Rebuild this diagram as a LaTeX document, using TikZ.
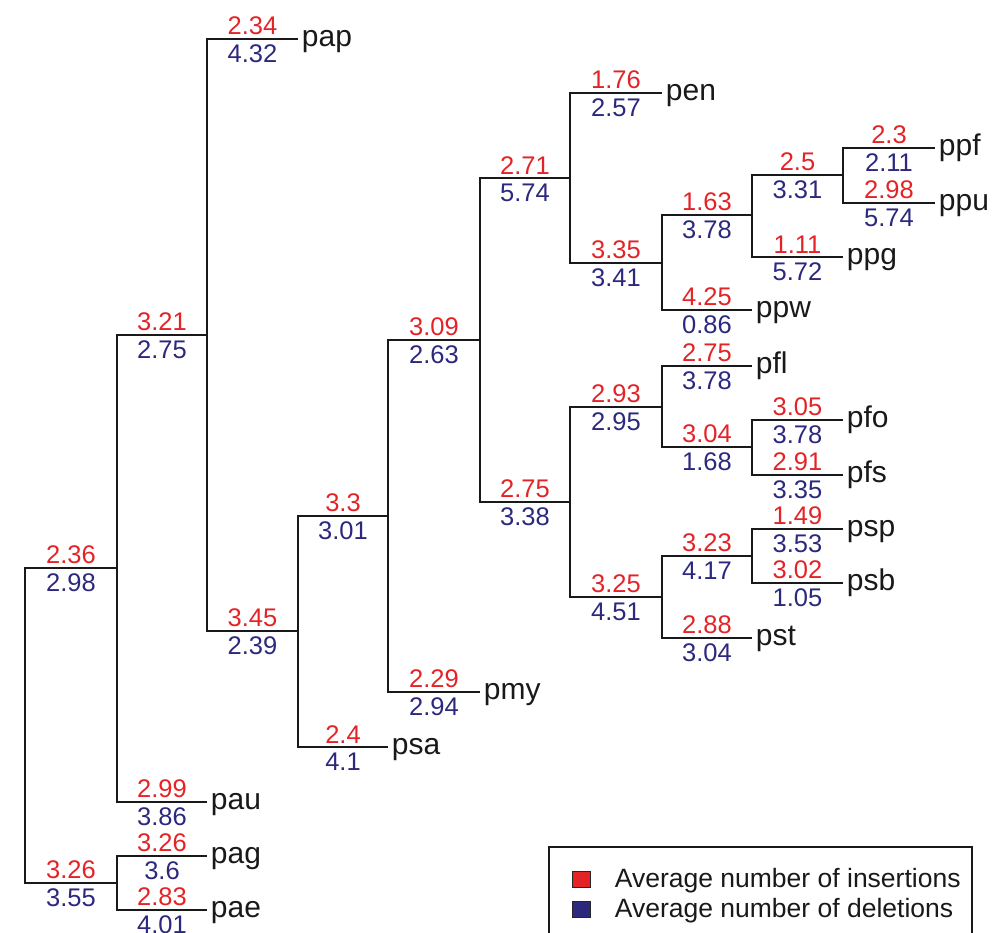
\documentclass[tikz,border=0pt]{standalone}
\usepackage{fontspec}
\setmainfont{Liberation Sans}
\definecolor{insred}{RGB}{228,35,39}
\definecolor{delblue}{RGB}{44,40,126}
\tikzset{
	inslabel/.style={pos=0.75, above=3pt, inner sep=0pt, text=insred, font=\fontsize{25.5}{30}\selectfont},
	dellabel/.style={pos=0.75, below=5pt, inner sep=0pt, text=delblue, font=\fontsize{25.5}{30}\selectfont},
	leaf/.style={anchor=west, inner sep=3pt, text height=15.5pt, text depth=0pt, font=\fontsize{30}{34}\selectfont},
	legbox/.style={draw=black!85, line width=1pt, minimum width=18pt, minimum height=16pt, inner sep=0pt},
	legtext/.style={anchor=base west, inner sep=0pt, font=\fontsize{26.5}{30}\selectfont}
}

\begin{document}
\begin{tikzpicture}[x=1pt, y=-1pt, line width=1.8pt, black!90]
		\useasboundingbox (0, 0) rectangle (996, 933);

		% inner nodes of the tree
		\coordinate (root) at (25, 725);
		\coordinate (n1) at (117, 568);
		\coordinate (n2) at (117, 883);
		\coordinate (n3) at (207, 335);
		\coordinate (n4) at (298, 631);
		\coordinate (n5) at (388, 516);
		\coordinate (n6) at (480, 340);
		\coordinate (n7) at (570, 178);
		\coordinate (n8) at (570, 502);
		\coordinate (n9) at (662, 263);
		\coordinate (n10) at (752, 215);
		\coordinate (n11) at (843, 175);
		\coordinate (n12) at (662, 407);
		\coordinate (n13) at (662, 597);
		\coordinate (n14) at (752, 447);
		\coordinate (n15) at (752, 556);

		% leaves
		\node[leaf] (pap) at (298, 39) {pap};
		\node[leaf] (pau) at (207, 802) {pau};
		\node[leaf] (pag) at (207, 856) {pag};
		\node[leaf] (pae) at (207, 910) {pae};
		\node[leaf] (psa) at (388, 747) {psa};
		\node[leaf] (pmy) at (480, 692) {pmy};
		\node[leaf] (pen) at (662, 93) {pen};
		\node[leaf] (ppw) at (752, 310) {ppw};
		\node[leaf] (ppg) at (843, 257) {ppg};
		\node[leaf] (ppf) at (935, 148) {ppf};
		\node[leaf] (ppu) at (935, 203) {ppu};
		\node[leaf] (pfl) at (752, 366) {pfl};
		\node[leaf] (pfo) at (843, 420) {pfo};
		\node[leaf] (pfs) at (843, 475) {pfs};
		\node[leaf] (pst) at (752, 638) {pst};
		\node[leaf] (psp) at (843, 529) {psp};
		\node[leaf] (psb) at (843, 583) {psb};

		% branches
		\draw (root) |- node[inslabel] {2.36} node[dellabel] {2.98} (n1);
		\draw (root) |- node[inslabel] {3.26} node[dellabel] {3.55} (n2);
		\draw (n1) |- node[inslabel] {3.21} node[dellabel] {2.75} (n3);
		\draw (n1) |- node[inslabel] {2.99} node[dellabel] {3.86} (pau.west);
		\draw (n2) |- node[inslabel] {3.26} node[dellabel] {3.6} (pag.west);
		\draw (n2) |- node[inslabel] {2.83} node[dellabel] {4.01} (pae.west);
		\draw (n3) |- node[inslabel] {2.34} node[dellabel] {4.32} (pap.west);
		\draw (n3) |- node[inslabel] {3.45} node[dellabel] {2.39} (n4);
		\draw (n4) |- node[inslabel] {3.3} node[dellabel] {3.01} (n5);
		\draw (n4) |- node[inslabel] {2.4} node[dellabel] {4.1} (psa.west);
		\draw (n5) |- node[inslabel] {3.09} node[dellabel] {2.63} (n6);
		\draw (n5) |- node[inslabel] {2.29} node[dellabel] {2.94} (pmy.west);
		\draw (n6) |- node[inslabel] {2.71} node[dellabel] {5.74} (n7);
		\draw (n6) |- node[inslabel] {2.75} node[dellabel] {3.38} (n8);
		\draw (n7) |- node[inslabel] {1.76} node[dellabel] {2.57} (pen.west);
		\draw (n7) |- node[inslabel] {3.35} node[dellabel] {3.41} (n9);
		\draw (n9) |- node[inslabel] {1.63} node[dellabel] {3.78} (n10);
		\draw (n9) |- node[inslabel] {4.25} node[dellabel] {0.86} (ppw.west);
		\draw (n10) |- node[inslabel] {2.5} node[dellabel] {3.31} (n11);
		\draw (n10) |- node[inslabel] {1.11} node[dellabel] {5.72} (ppg.west);
		\draw (n11) |- node[inslabel] {2.3} node[dellabel] {2.11} (ppf.west);
		\draw (n11) |- node[inslabel] {2.98} node[dellabel] {5.74} (ppu.west);
		\draw (n8) |- node[inslabel] {2.93} node[dellabel] {2.95} (n12);
		\draw (n8) |- node[inslabel] {3.25} node[dellabel] {4.51} (n13);
		\draw (n12) |- node[inslabel] {2.75} node[dellabel] {3.78} (pfl.west);
		\draw (n12) |- node[inslabel] {3.04} node[dellabel] {1.68} (n14);
		\draw (n14) |- node[inslabel] {3.05} node[dellabel] {3.78} (pfo.west);
		\draw (n14) |- node[inslabel] {2.91} node[dellabel] {3.35} (pfs.west);
		\draw (n13) |- node[inslabel] {3.23} node[dellabel] {4.17} (n15);
		\draw (n13) |- node[inslabel] {2.88} node[dellabel] {3.04} (pst.west);
		\draw (n15) |- node[inslabel] {1.49} node[dellabel] {3.53} (psp.west);
		\draw (n15) |- node[inslabel] {3.02} node[dellabel] {1.05} (psb.west);

		% legend
		\draw[line width=1.2pt] (549, 847) rectangle (972, 960);
		\node[legbox, fill=insred] (insbox) at (581, 879) {};
		\node[legbox, fill=delblue] (delbox) at (581, 909) {};
		\node[legtext] (instext) at (614, 887) {Average number of insertions};
		\node[legtext] (deltext) at (614, 917) {Average number of deletions};
\end{tikzpicture}
\end{document}
